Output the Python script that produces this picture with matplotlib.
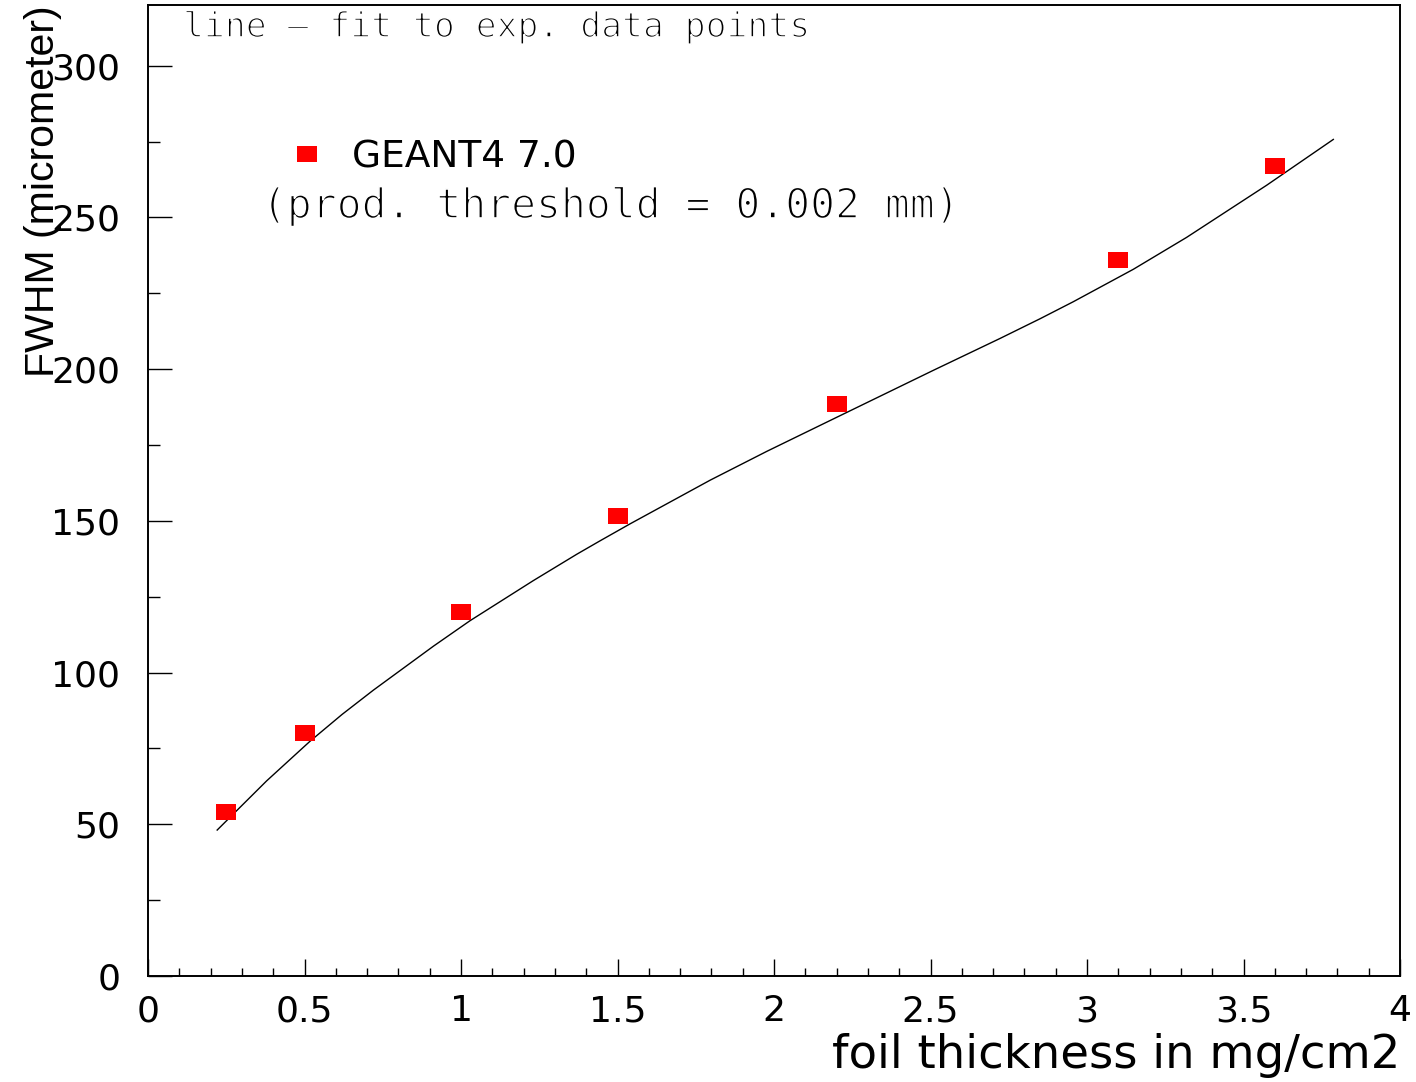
import matplotlib
matplotlib.use("Agg")
import matplotlib.pyplot as plt
import matplotlib.patheffects as pe
from matplotlib.ticker import MultipleLocator

# simulated points
thickness = [0.25, 0.5, 1.0, 1.5, 2.2, 3.1, 3.6]
fwhm = [54, 80, 120, 151.5, 188.5, 236, 267]

# fit curve to the experimental data, sampled along the line
fit_x = [0.221, 0.379, 0.518, 0.620, 0.720, 0.912, 1.029, 1.231, 1.370, 1.444,
         1.540, 1.796, 1.977, 2.168, 2.509, 2.722, 2.850, 2.956, 3.148, 3.318,
         3.574, 3.787]
fit_y = [48.1, 64.3, 77.4, 86.2, 94.2, 108.7, 117.1, 130.3, 139.0, 143.4,
         149.0, 163.4, 172.9, 182.5, 199.6, 210.1, 216.6, 222.2, 232.9, 243.4,
         260.6, 275.7]

plt.rcParams['font.family'] = 'DejaVu Sans'

W, H = 1416, 1082
fig = plt.figure(figsize=(W / 100, H / 100), dpi=100)
ax = fig.add_axes([148 / W, 1 - 976 / H, (1400 - 148) / W, (976 - 5) / H])

# flat rectangular marker, wider than tall
rect = [(-1, -0.76), (1, -0.76), (1, 0.76), (-1, 0.76), (-1, -0.76)]

ax.plot(fit_x, fit_y, color='black', lw=1.0)
ax.plot(thickness, fwhm, ls='none', marker=rect, ms=15.1, color='#ff0000',
        mec='#ff0000', mew=0, label='GEANT4 7.0')

ax.set_xlim(0, 4)
ax.set_ylim(0, 320)
ax.xaxis.set_major_locator(MultipleLocator(0.5))
ax.xaxis.set_minor_locator(MultipleLocator(0.1))
ax.yaxis.set_major_locator(MultipleLocator(50))
ax.yaxis.set_minor_locator(MultipleLocator(25))
ax.xaxis.set_major_formatter(lambda v, p: f"{v:g}")

ax.tick_params(axis='both', which='both', direction='in', width=1.0,
               colors='black', labelsize=26)
ax.tick_params(axis='y', which='major', length=17, pad=20)
ax.tick_params(axis='y', which='minor', length=8.5)
ax.tick_params(axis='x', which='major', length=12, pad=13)
ax.tick_params(axis='x', which='minor', length=6)

for s in ax.spines.values():
    s.set_linewidth(1.4)

ax.set_xlabel('foil thickness in mg/cm2', fontsize=33.5, loc='right', va='baseline')
ax.xaxis.set_label_coords(1.0, -(1068 - 976) / 971)
ax.set_ylabel('FWHM (micrometer)', fontsize=29.5, loc='top', family='Liberation Sans')
ax.yaxis.set_label_coords(-(148 - 62) / 1252, 1.0)

ax.legend(loc='center left', bbox_to_anchor=(0.1123, 0.8434), frameon=False,
          fontsize=27, borderpad=0, borderaxespad=0, handlelength=1.0,
          handletextpad=0.7, markerscale=1.0)

# thin annotation text
thin = [pe.Normal(), pe.Stroke(linewidth=1.2, foreground='white')]
ax.text(0.028, (976 - 37) / 971, 'line – fit to exp. data points',
        transform=ax.transAxes, family='DejaVu Sans Mono', fontsize=25,
        va='baseline', ha='left', path_effects=thin)
ax.text(0.091, (976 - 218) / 971, '(prod. threshold = 0.002 mm)',
        transform=ax.transAxes, family='DejaVu Sans Mono', fontsize=29.8,
        va='baseline', ha='left', path_effects=thin)

fig.savefig('out.png', dpi=100, facecolor='white')
